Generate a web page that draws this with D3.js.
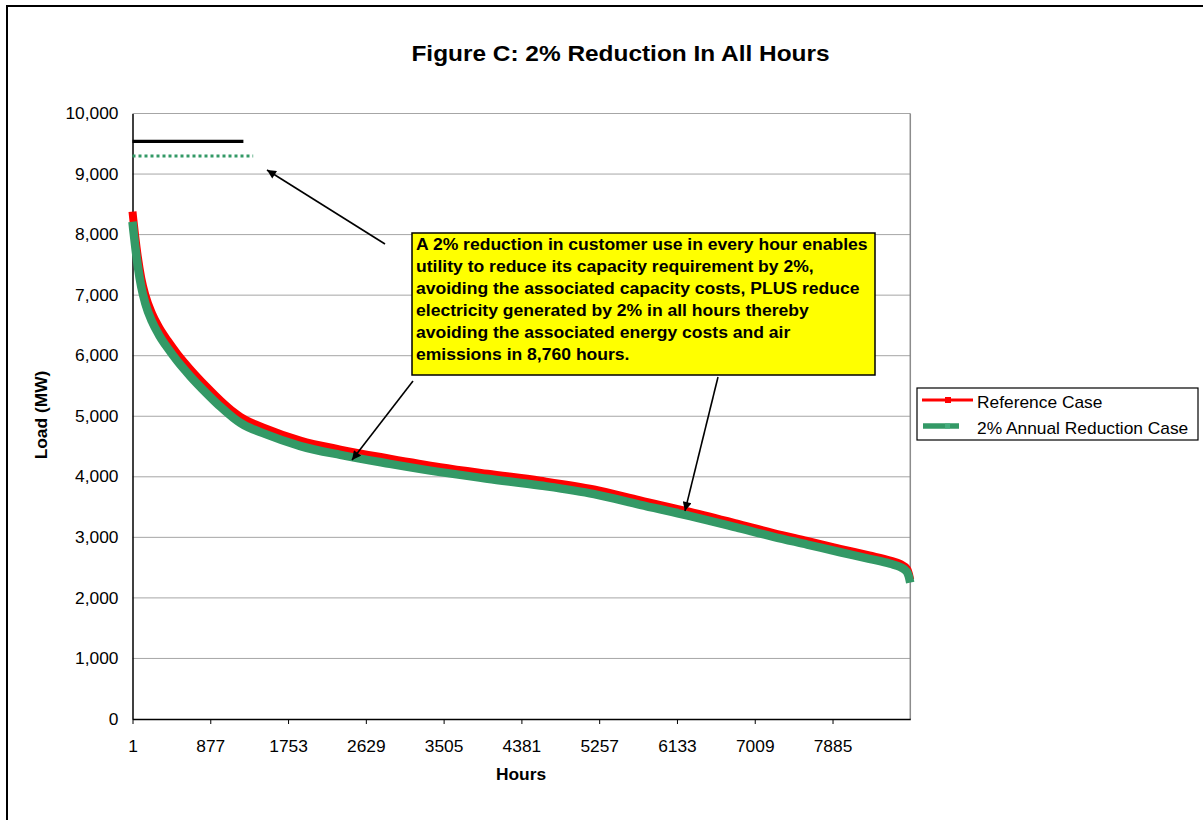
<!DOCTYPE html>
<html>
<head>
<meta charset="utf-8">
<script src="https://cdn.jsdelivr.net/npm/d3@7"></script>
<style>
  body { margin: 0; background: #fff; }
  text { font-family: "Liberation Sans", Arial, sans-serif; fill: #000; }
</style>
</head>
<body>
<svg id="chart" width="1203" height="820"></svg>
<script>
// Load duration curve samples (hour rank, MW)
const hours = [1, 10, 30, 60, 100, 144, 220, 300, 400, 507, 650, 831, 1000, 1137, 1216, 1500, 1892, 2342, 2900, 3468, 4000, 4594, 5200, 5720, 6283, 6800, 7221, 7600, 7972, 8300, 8535, 8650, 8723, 8745, 8760];
const referenceCase = [8380, 8250, 7990, 7640, 7280, 7010, 6700, 6470, 6245, 6030, 5780, 5495, 5250, 5075, 4990, 4800, 4600, 4450, 4300, 4160, 4050, 3935, 3790, 3610, 3420, 3230, 3070, 2940, 2810, 2700, 2616, 2560, 2480, 2400, 2300];
const reductionCase = [8212, 8085, 7830, 7487, 7134, 6870, 6566, 6341, 6120, 5909, 5664, 5385, 5145, 4974, 4890, 4704, 4508, 4361, 4214, 4077, 3969, 3856, 3714, 3538, 3352, 3165, 3009, 2881, 2754, 2646, 2564, 2509, 2430, 2352, 2254];

// Capacity requirement markers (MW) drawn over the first hours
const capacityHours = [1, 1250];
const capacityReference = [9540, 9540];
const capacityHoursReduced = [1, 1360];
const capacityReduced = [9300, 9300];

const yTicks = [0, 1000, 2000, 3000, 4000, 5000, 6000, 7000, 8000, 9000, 10000];
const xTicks = [1, 877, 1753, 2629, 3505, 4381, 5257, 6133, 7009, 7885];
const hourCount = 8760;

const seriesNames = ["Reference Case", "2% Annual Reduction Case"];
const noteLines = [
  "A 2% reduction in customer use in every hour enables",
  "utility to reduce its capacity requirement by 2%,",
  "avoiding the associated capacity costs, PLUS reduce",
  "electricity generated by 2% in all hours thereby",
  "avoiding the associated energy costs and air",
  "emissions in 8,760 hours."
];

const RED = "#ff0000", GREEN = "#339966", GRID = "#a6a6a6";
const SX = 1.085; // horizontal text stretch

const svg = d3.select("#chart");

function stretch(sel, sx) {
  sel.each(function () {
    const t = d3.select(this);
    const x = +t.attr("x") || 0, y = +t.attr("y") || 0;
    const prev = t.attr("transform") || "";
    t.attr("x", 0).attr("y", 0)
     .attr("transform", `${prev} translate(${x},${y}) scale(${sx},1)`);
  });
}

// outer frame
svg.append("rect").attr("x", 7).attr("y", 6).attr("width", 1300).attr("height", 900)
  .attr("fill", "none").attr("stroke", "#000").attr("stroke-width", 2);

const x = d3.scaleLinear().domain([1, hourCount + 1]).range([132.5, 910.3]);
const y = d3.scaleLinear().domain([0, 10000]).range([719, 113.5]);

// gridlines
svg.append("g").selectAll("line").data(yTicks.filter(d => d > 0)).join("line")
  .attr("x1", x.range()[0]).attr("x2", x.range()[1])
  .attr("y1", d => y(d)).attr("y2", d => y(d))
  .attr("stroke", GRID).attr("stroke-width", 1);

// right border of plot area
svg.append("line").attr("x1", x.range()[1]).attr("x2", x.range()[1])
  .attr("y1", y(10000)).attr("y2", y(0)).attr("stroke", "#8c8c8c").attr("stroke-width", 1.5);

// y axis
const yAxis = svg.append("g").attr("transform", `translate(${x.range()[0]},0)`)
  .call(d3.axisLeft(y).tickValues(yTicks).tickSize(0).tickPadding(14).tickFormat(d3.format(",")));
yAxis.select(".domain").attr("stroke", "#000").attr("stroke-width", 1.5);
yAxis.selectAll("text").attr("font-size", 16).attr("font-family", "Liberation Sans, Arial, sans-serif");
stretch(yAxis.selectAll("text"), SX);

// x axis
const xAxis = svg.append("g").attr("transform", `translate(0,${y(0)})`)
  .call(d3.axisBottom(x).tickValues(xTicks).tickSize(5).tickSizeOuter(0).tickPadding(17).tickFormat(d3.format("d")));
xAxis.select(".domain").attr("stroke", "#000").attr("stroke-width", 1.5);
xAxis.selectAll(".tick line").attr("stroke", "#000").attr("stroke-width", 1);
xAxis.selectAll("text").attr("font-size", 16).attr("font-family", "Liberation Sans, Arial, sans-serif");
stretch(xAxis.selectAll("text"), SX);

// capacity lines
const capLine = d3.line().x(d => x(d[0])).y(d => y(d[1]));
svg.append("path").datum(d3.zip(capacityHours, capacityReference))
  .attr("d", capLine).attr("stroke", "#000").attr("stroke-width", 3.3).attr("fill", "none");
svg.append("path").datum(d3.zip(capacityHoursReduced, capacityReduced))
  .attr("d", capLine).attr("stroke", GREEN).attr("stroke-width", 3)
  .attr("stroke-dasharray", "3,3").attr("fill", "none");

// load duration curves
const curve = d3.line().x(d => x(d[0])).y(d => y(d[1])).curve(d3.curveMonotoneX);
svg.append("path").datum(d3.zip(hours, referenceCase))
  .attr("d", curve).attr("stroke", RED).attr("stroke-width", 8).attr("fill", "none");
svg.append("path").datum(d3.zip(hours, reductionCase))
  .attr("d", curve).attr("stroke", GREEN).attr("stroke-width", 8.5).attr("fill", "none");

// arrowhead
svg.append("defs").append("marker").attr("id", "arrow")
  .attr("viewBox", "0 0 10 10").attr("refX", 10).attr("refY", 5)
  .attr("markerWidth", 11).attr("markerHeight", 9).attr("markerUnits", "userSpaceOnUse")
  .attr("orient", "auto")
  .append("path").attr("d", "M0,0 L10,5 L0,10 Z").attr("fill", "#000");

const arrows = [
  [[385, 244], [267, 170]],
  [[413, 381], [352, 460]],
  [[718, 377], [685, 511]]
];
svg.append("g").selectAll("line").data(arrows).join("line")
  .attr("x1", d => d[0][0]).attr("y1", d => d[0][1])
  .attr("x2", d => d[1][0]).attr("y2", d => d[1][1])
  .attr("stroke", "#000").attr("stroke-width", 1.6).attr("marker-end", "url(#arrow)");

// callout box
svg.append("rect").attr("x", 412).attr("y", 233).attr("width", 463).attr("height", 142)
  .attr("fill", "#ffff00").attr("stroke", "#000").attr("stroke-width", 1.5);
const note = svg.append("g").selectAll("text").data(noteLines).join("text")
  .attr("x", 416).attr("y", (d, i) => 250 + i * 21.9)
  .attr("font-size", 16).attr("font-weight", "bold").text(d => d);
stretch(note, 1.097);

// title and axis titles
const title = svg.append("text").attr("x", 620.5).attr("y", 61).attr("text-anchor", "middle")
  .attr("font-size", 22.5).attr("font-weight", "bold").text("Figure C: 2% Reduction In All Hours");
stretch(title, SX);
const xTitle = svg.append("text").attr("x", 521).attr("y", 780).attr("text-anchor", "middle")
  .attr("font-size", 16).attr("font-weight", "bold").text("Hours");
stretch(xTitle, SX);
const yTitle = svg.append("text").attr("transform", "translate(47,415) rotate(-90)")
  .attr("text-anchor", "middle").attr("font-size", 16).attr("font-weight", "bold").text("Load (MW)");
stretch(yTitle, SX);

// legend
const legend = svg.append("g");
legend.append("rect").attr("x", 917).attr("y", 388).attr("width", 281).attr("height", 52)
  .attr("fill", "#fff").attr("stroke", "#000").attr("stroke-width", 1.2);
legend.append("line").attr("x1", 922).attr("x2", 973).attr("y1", 400).attr("y2", 400)
  .attr("stroke", RED).attr("stroke-width", 3);
legend.append("rect").attr("x", 945).attr("y", 397).attr("width", 6).attr("height", 6).attr("fill", RED);
legend.append("line").attr("x1", 923).attr("x2", 959).attr("y1", 426).attr("y2", 426)
  .attr("stroke", GREEN).attr("stroke-width", 5.5);
legend.append("rect").attr("x", 945).attr("y", 423.5).attr("width", 5).attr("height", 5).attr("fill", "#45ad7e");
const legText = legend.selectAll("text").data(seriesNames).join("text")
  .attr("x", 977).attr("y", (d, i) => 408 + i * 25.5).attr("font-size", 16).text(d => d);
stretch(legText, SX);
</script>
</body>
</html>
